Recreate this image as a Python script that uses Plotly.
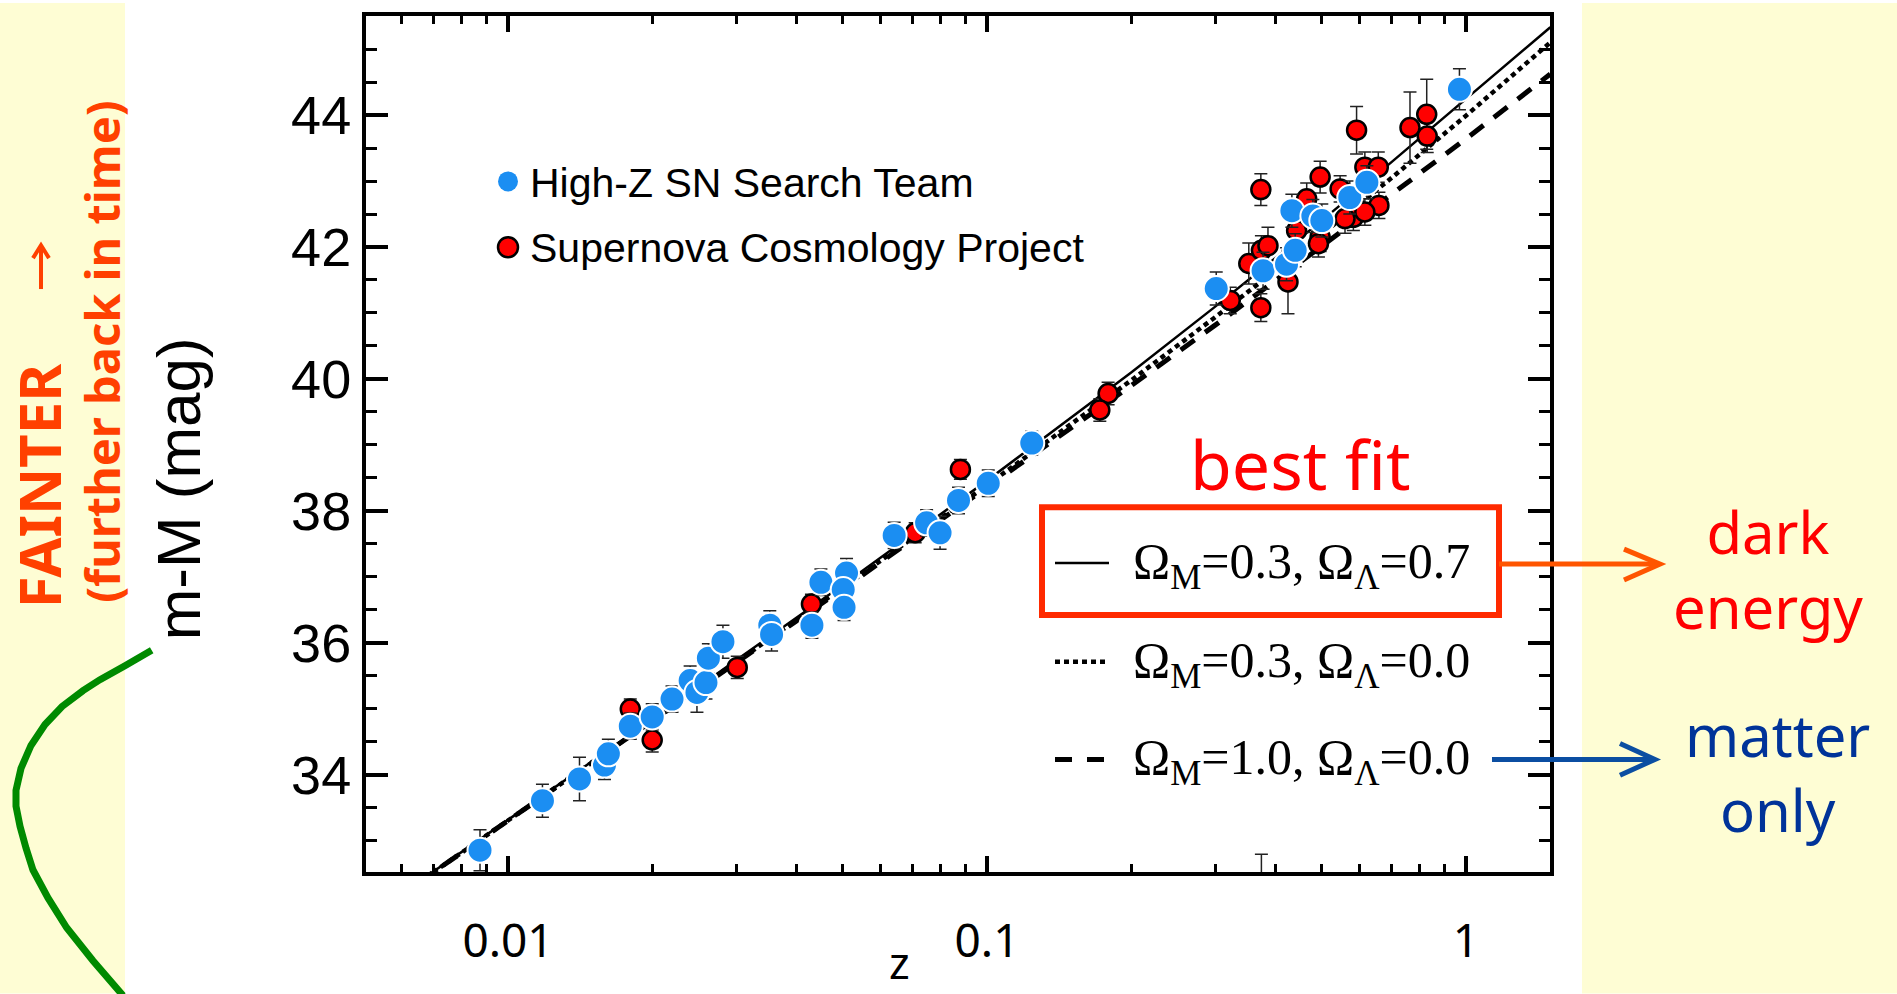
import plotly.graph_objects as go

# ---------------- data ----------------
# High-Z SN Search Team: redshift, distance modulus, 1-sigma error
hz_z = [0.00874, 0.0118, 0.0141, 0.0159, 0.0162, 0.0180, 0.0200, 0.0220, 0.0240,
        0.0248, 0.0259, 0.0262, 0.0281, 0.0352, 0.0355, 0.0431, 0.0450, 0.0509,
        0.0501, 0.0503, 0.0640, 0.0748, 0.0798, 0.0872, 0.1006, 0.124, 0.301,
        0.377, 0.422, 0.440, 0.433, 0.479, 0.500, 0.572, 0.621, 0.969]
hz_mu = [32.86, 33.61, 33.94, 34.15, 34.32, 34.74, 34.88, 35.15, 35.43,
         35.25, 35.40, 35.77, 36.02, 36.27, 36.13, 36.27, 36.92, 37.06,
         36.81, 36.54, 37.63, 37.82, 37.67, 38.16, 38.42, 39.03, 41.37,
         41.64, 41.74, 41.95, 42.55, 42.47, 42.40, 42.75, 42.98, 44.39]
hz_err = [0.31, 0.25, 0.33, 0.22, 0.22, 0.20, 0.20, 0.20, 0.22,
          0.30, 0.25, 0.22, 0.25, 0.22, 0.25, 0.20, 0.20, 0.22,
          0.20, 0.20, 0.20, 0.20, 0.25, 0.20, 0.20, 0.18, 0.25,
          0.28, 0.25, 0.25, 0.25, 0.25, 0.25, 0.25, 0.25, 0.31]

# Supernova Cosmology Project
scp_z = [0.0180, 0.0200, 0.0301, 0.0430, 0.0708, 0.0880, 0.179, 0.172, 0.322,
         0.373, 0.373, 0.352, 0.374, 0.386, 0.425, 0.443, 0.465, 0.496, 0.496,
         0.546, 0.582, 0.615, 0.656, 0.658, 0.615, 0.559, 0.492, 0.764, 0.828,
         0.830, 0.591, 0.374]
scp_mu = [35.00, 34.53, 35.63, 36.59, 37.67, 38.63, 39.78, 39.53, 41.19,
          42.87, 41.08, 41.75, 41.95, 42.02, 41.47, 42.25, 42.73, 42.15, 43.06,
          42.88, 42.45, 43.21, 43.21, 42.63, 42.53, 42.43, 42.05, 43.81, 44.01,
          43.68, 43.77, 31.80]
scp_err = [0.15, 0.18, 0.17, 0.15, 0.15, 0.15, 0.17, 0.17, 0.20,
           0.24, 0.21, 0.31, 0.22, 0.28, 0.48, 0.20, 0.24, 0.22, 0.24,
           0.20, 0.20, 0.23, 0.23, 0.20, 0.20, 0.22, 0.20, 0.54, 0.53,
           0.25, 0.36, 1.00]

# cosmological model curves (m-M versus z)
model_z = [0.0065, 0.007, 0.01, 0.02, 0.05, 0.1, 0.2, 0.3, 0.5, 0.7, 1.0, 1.5]
mu_m03_l07 = [32.38, 32.54, 33.32, 34.84, 36.88, 38.46, 40.10, 41.10, 42.40, 43.29, 44.24, 45.33]
mu_m03_l00 = [32.37, 32.53, 33.31, 34.82, 36.84, 38.39, 39.98, 40.94, 42.19, 43.05, 43.99, 45.10]
mu_m10_l00 = [32.37, 32.53, 33.31, 34.82, 36.82, 38.35, 39.90, 40.82, 42.00, 42.80, 43.64, 44.62]

x_tickvals = [0.01, 0.1, 1]
x_ticktext = ["0.01", "0.1", "1"]
x_minorvals = [0.006, 0.007, 0.008, 0.009,
               0.02, 0.03, 0.04, 0.05, 0.06, 0.07, 0.08, 0.09,
               0.2, 0.3, 0.4, 0.5, 0.6, 0.7, 0.8, 0.9]

# ---------------- layout geometry (pixels) ----------------
W, H = 1897, 994
L, R, T, B = 366, 1550, 13, 872


def fx(p):
    return (p - L) / (R - L)


def fy(p):
    return (B - p) / (B - T)


BLUE = "#1b8ef2"
RED = "#ff0000"
ORANGE = "#ff4000"

fig = go.Figure()

# model curves
fig.add_trace(go.Scatter(x=model_z, y=mu_m10_l00, mode="lines", name="ΩM=1.0, ΩΛ=0.0",
                         line=dict(color="black", width=5, dash="17px,13px"), hoverinfo="skip"))
fig.add_trace(go.Scatter(x=model_z, y=mu_m03_l00, mode="lines", name="ΩM=0.3, ΩΛ=0.0",
                         line=dict(color="black", width=4.5, dash="5px,4px"), hoverinfo="skip"))
fig.add_trace(go.Scatter(x=model_z, y=mu_m03_l07, mode="lines", name="ΩM=0.3, ΩΛ=0.7",
                         line=dict(color="black", width=2.5), hoverinfo="skip"))

# supernova samples
fig.add_trace(go.Scatter(
    x=scp_z, y=scp_mu, mode="markers", name="Supernova Cosmology Project",
    marker=dict(size=19, color=RED, line=dict(color="black", width=2.5)),
    error_y=dict(type="data", array=scp_err, color="#222222", thickness=1.5, width=6.5),
))
fig.add_trace(go.Scatter(
    x=hz_z, y=hz_mu, mode="markers", name="High-Z SN Search Team",
    marker=dict(size=25, color=BLUE, line=dict(color="white", width=2)),
    error_y=dict(type="data", array=hz_err, color="#222222", thickness=1.5, width=6.5),
))

xrange = [-2.2965, 0.1754]

fig.update_layout(
    width=W, height=H, autosize=False,
    margin=dict(l=L, r=W - R, t=T, b=H - B, pad=0),
    paper_bgcolor="white", plot_bgcolor="white",
    showlegend=False,
    xaxis=dict(
        type="log", range=xrange, showgrid=False, zeroline=False,
        showline=True, linecolor="black", linewidth=4, mirror="ticks",
        ticks="inside", ticklen=16, tickwidth=4, tickcolor="black",
        tickmode="array", tickvals=x_tickvals, ticktext=x_ticktext,
        tickfont=dict(family="Noto Sans", size=46, color="black"),
        ticklabelstandoff=26,
        minor=dict(tickmode="array", tickvals=x_minorvals, ticks="inside",
                   ticklen=8, tickwidth=3, tickcolor="black", showgrid=False),
    ),
    xaxis2=dict(
        type="log", range=xrange, overlaying="x", matches="x", anchor="y", side="bottom",
        showgrid=False, zeroline=False, showline=False, showticklabels=False,
        ticks="outside", ticklen=18, tickwidth=4, tickcolor="black",
        tickmode="array", tickvals=x_tickvals,
        minor=dict(tickmode="array", tickvals=x_minorvals, ticks="outside",
                   ticklen=9, tickwidth=3, tickcolor="black", showgrid=False),
    ),
    yaxis=dict(
        range=[32.53, 45.50], showgrid=False, zeroline=False,
        showline=True, linecolor="black", linewidth=4, mirror="ticks",
        ticks="inside", ticklen=22, tickwidth=4, tickcolor="black",
        tick0=0, dtick=2,
        tickfont=dict(family="Liberation Sans", size=54, color="black"),
        ticklabelstandoff=0,
        minor=dict(tick0=0, dtick=0.5, ticks="inside", ticklen=11, tickwidth=3,
                   tickcolor="black", showgrid=False),
    ),
)

shapes = []
# side panels
shapes.append(dict(type="rect", xref="paper", yref="paper", layer="below",
                   x0=fx(0), x1=fx(125), y0=fy(H), y1=fy(0),
                   fillcolor="#fefdd4", line=dict(width=0)))
shapes.append(dict(type="rect", xref="paper", yref="paper", layer="below",
                   x0=fx(1582), x1=fx(W), y0=fy(H), y1=fy(0),
                   fillcolor="#fefdd4", line=dict(width=0)))

# marker legend symbols
for cy, fill, edge in [(179, BLUE, BLUE), (245, RED, "black")]:
    shapes.append(dict(type="circle", xref="paper", yref="paper",
                       xsizemode="pixel", ysizemode="pixel",
                       xanchor=fx(508), yanchor=fy(cy),
                       x0=-10, x1=10, y0=-10, y1=10,
                       fillcolor=fill, line=dict(color=edge, width=2.5 if edge == "black" else 0)))

# model legend samples
for cy, width, dash in [(562, 2.5, "solid"), (661, 4.5, "5px,4px"), (759, 5, "17px,15px")]:
    shapes.append(dict(type="line", xref="paper", yref="paper",
                       x0=fx(1055), x1=fx(1109), y0=fy(cy), y1=fy(cy),
                       line=dict(color="black", width=width, dash=dash)))

# best-fit box
shapes.append(dict(type="rect", xref="paper", yref="paper",
                   x0=fx(1042), x1=fx(1499), y0=fy(614), y1=fy(506),
                   line=dict(color="#ff2a00", width=6)))


def path_px(points):
    return "M " + " L ".join(f"{fx(x):.5f},{fy(y):.5f}" for x, y in points)


# arrows towards the side labels
shapes.append(dict(type="path", xref="paper", yref="paper",
                   path=path_px([(1499, 563), (1658, 563)]),
                   line=dict(color="#ff5500", width=5)))
shapes.append(dict(type="path", xref="paper", yref="paper",
                   path=path_px([(1624, 548), (1660, 563), (1624, 579)]),
                   line=dict(color="#ff5500", width=5)))
shapes.append(dict(type="path", xref="paper", yref="paper",
                   path=path_px([(1492, 759), (1653, 759)]),
                   line=dict(color="#0b4ea2", width=5)))
shapes.append(dict(type="path", xref="paper", yref="paper",
                   path=path_px([(1620, 743), (1655, 759), (1620, 775)]),
                   line=dict(color="#0b4ea2", width=5)))

# upward arrow next to "FAINTER"
shapes.append(dict(type="path", xref="paper", yref="paper",
                   path=path_px([(41, 287), (41, 244)]),
                   line=dict(color=ORANGE, width=4)))
shapes.append(dict(type="path", xref="paper", yref="paper",
                   path=path_px([(33, 256), (41, 243), (49, 256)]),
                   line=dict(color=ORANGE, width=4)))

# green bracket curve on the left
curve = [(151.7, 649.5), (125, 665), (100, 679), (83, 690), (62, 706), (45, 724),
         (31, 745), (21, 768), (16, 790), (16, 806), (20, 826), (26, 848), (33, 870),
         (48, 898), (66.7, 928), (93, 961), (123, 996)]
shapes.append(dict(type="path", xref="paper", yref="paper", path=path_px(curve),
                   line=dict(color="#008a00", width=7)))

fig.update_layout(shapes=shapes)

ann = []


def text(x, y, s, size, color="black", family="Liberation Sans", xanchor="center",
         yanchor="middle", angle=0, bold=False):
    ann.append(dict(xref="paper", yref="paper", x=fx(x), y=fy(y), text=(f"<b>{s}</b>" if bold else s),
                    showarrow=False, xanchor=xanchor, yanchor=yanchor, textangle=angle,
                    font=dict(family=family, size=size, color=color)))


text(178, 488, "m-M (mag)", 62, angle=-90)
text(899, 994, "z", 44, family="Noto Sans", yanchor="bottom")

text(528, 181, "High-Z SN Search Team", 41, xanchor="left")
text(528, 246, "Supernova Cosmology Project", 41, xanchor="left")

text(1131, 564, "Ω<sub>M</sub>=0.3, Ω<sub>Λ</sub>=0.7", 50, family="Liberation Serif", xanchor="left")
text(1131, 663, "Ω<sub>M</sub>=0.3, Ω<sub>Λ</sub>=0.0", 50, family="Liberation Serif", xanchor="left")
text(1131, 761, "Ω<sub>M</sub>=1.0, Ω<sub>Λ</sub>=0.0", 50, family="Liberation Serif", xanchor="left")

text(1300, 462, "best fit", 68, color="#ff0000", family="Noto Sans")
text(1768, 568, "dark<br>energy", 58, color="#ff0000", family="Noto Sans")
text(1777, 772, "matter<br>only", 58, color="#003399", family="Noto Sans")

text(38, 485, "FAINTER", 58, color=ORANGE, family="Noto Sans", angle=-90, bold=True)
text(102, 350, "(further back in time)", 47, color=ORANGE, family="Noto Sans", angle=-90, bold=True)

fig.update_layout(annotations=ann)

fig.write_html("out.html")
